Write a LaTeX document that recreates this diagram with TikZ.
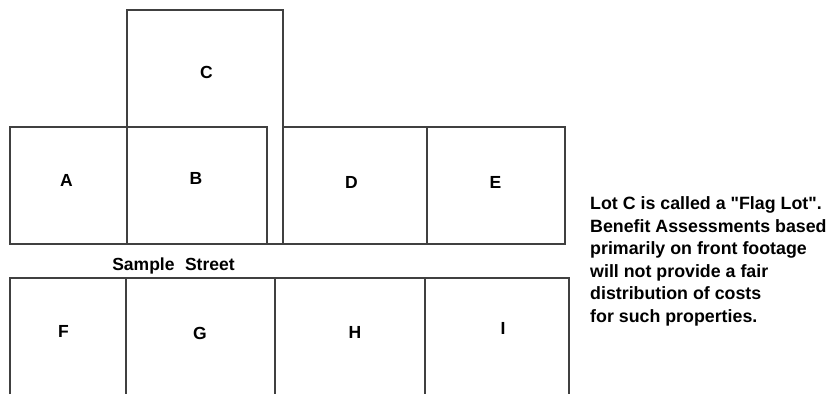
\documentclass[tikz,border=0pt]{standalone}
\usepackage{fontspec}
\newfontfamily\lotfont{Liberation Sans}
\begin{document}
\begin{tikzpicture}[x=1pt,y=-1pt,
  lotline/.style={draw=black!75,line width=1.3pt},
  lotlabel/.style={font=\lotfont\fontsize{17.5}{21}\selectfont\bfseries,inner sep=0pt,text=black},
  note/.style={font=\lotfont\fontsize{17.8}{22.5}\selectfont\bfseries,inner sep=0pt,align=left,text=black}]
\useasboundingbox (0,0) rectangle (838,394);
% top row
\draw[lotline] (10,127) rectangle (127,244);
\draw[lotline] (127,127) rectangle (267,244);
\draw[lotline] (127,127) -- (127,10) -- (283,10) -- (283,244) -- (267,244);
\draw[lotline] (283,127) rectangle (427,244);
\draw[lotline] (427,127) rectangle (565,244);
% bottom row
\draw[lotline] (10,394) -- (10,278) -- (569,278) -- (569,394);
\draw[lotline] (126,278) -- (126,394);
\draw[lotline] (275,278) -- (275,394);
\draw[lotline] (425,278) -- (425,394);
% labels
\node[lotlabel] (lC) at (206.5,72) {C};
\node[lotlabel] (lA) at (66.5,180) {A};
\node[lotlabel] (lB) at (196,178.5) {B};
\node[lotlabel] (lD) at (351.5,182) {D};
\node[lotlabel] (lE) at (495.5,182) {E};
\node[lotlabel] (street) at (173.5,266) {Sample\hspace{0.6em}Street};
\node[lotlabel] (lF) at (63.5,331.5) {F};
\node[lotlabel] (lG) at (200,333.5) {G};
\node[lotlabel] (lH) at (355,332.5) {H};
\node[lotlabel] (lI) at (503,328.5) {I};
\node[note,anchor=north west] (txt) at (590,196.5) {Lot C is called a "Flag Lot".\\Benefit Assessments based\\primarily on front footage\\will not provide a fair\\distribution of costs\\for such properties.};
\end{tikzpicture}
\end{document}
